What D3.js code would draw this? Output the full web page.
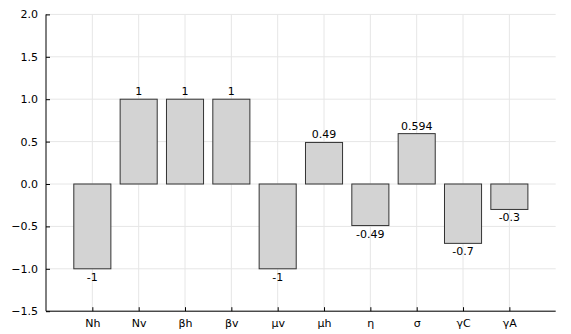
<!DOCTYPE html>
<html>
<head>
<meta charset="utf-8">
<script src="https://cdn.jsdelivr.net/npm/d3@7/dist/d3.min.js"></script>
<style>
html,body{margin:0;padding:0;background:#fff;}
svg{display:block;}
text{font-family:"DejaVu Sans",sans-serif;}
</style>
</head>
<body>
<svg id="chart" width="571" height="334"></svg>
<script>
const categories = ["Nh","Nv","βh","βv","μv","μh","η","σ","γC","γA"];
const values = [-1, 1, 1, 1, -1, 0.49, -0.49, 0.594, -0.7, -0.3];
const valueLabels = ["-1","1","1","1","-1","0.49","-0.49","0.594","-0.7","-0.3"];
const yTicks = [-1.5, -1.0, -0.5, 0.0, 0.5, 1.0, 1.5, 2.0];

(function(){
const svg = d3.select("#chart");
const pLeft = 46, pRight = 555.7, pTop = 14.4, pBottom = 311.2;

const x = d3.scaleLinear().domain([-1, 10]).range([pLeft, pRight]);
const y = d3.scaleLinear().domain([-1.5, 2.0]).range([pBottom, pTop]);
const step = x(1) - x(0);
const bw = step * 0.8;

// grid
const g = svg.append("g");
g.selectAll(".vg").data(categories).enter().append("line")
  .attr("x1", (d,i)=>x(i)).attr("x2", (d,i)=>x(i))
  .attr("y1", pTop).attr("y2", pBottom)
  .attr("stroke", "#e6e6e6").attr("stroke-width", 1);
g.selectAll(".hg").data(yTicks).enter().append("line")
  .attr("x1", pLeft).attr("x2", pRight)
  .attr("y1", d=>y(d)).attr("y2", d=>y(d))
  .attr("stroke", "#e6e6e6").attr("stroke-width", 1);

// bars
svg.selectAll(".bar").data(values).enter().append("rect")
  .attr("x", (d,i)=>x(i) - bw/2)
  .attr("width", bw)
  .attr("y", d=>Math.min(y(d), y(0)))
  .attr("height", d=>Math.abs(y(d) - y(0)))
  .attr("fill", "#d3d3d3")
  .attr("stroke", "#333")
  .attr("stroke-width", 1);

// value labels
svg.selectAll(".vl").data(values).enter().append("text")
  .attr("x", (d,i)=>x(i))
  .attr("y", d=> d >= 0 ? y(d) - 4 : y(d) + 12)
  .attr("text-anchor", "middle")
  .attr("font-size", "11px")
  .attr("fill", "#000")
  .text((d,i)=>valueLabels[i]);

// axes
const yAxis = d3.axisLeft(y).tickValues(yTicks).tickSize(-4).tickPadding(8)
  .tickFormat(d=>d3.format(".1f")(d).replace("-", "\u2212"));
const ya = svg.append("g").attr("transform", `translate(${pLeft},0)`).call(yAxis);
const xAxis = d3.axisBottom(x).tickValues(d3.range(categories.length)).tickSize(-4).tickPadding(8)
  .tickFormat(i=>categories[i]);
const xa = svg.append("g").attr("transform", `translate(0,${pBottom})`).call(xAxis);

[ya, xa].forEach(a=>{
  a.select(".domain").attr("stroke", "#000").attr("stroke-width", 1);
  a.selectAll(".tick line").attr("stroke", "#000");
  a.selectAll(".tick text").attr("font-size", "11px").attr("fill", "#000").attr("font-family", "DejaVu Sans");
});
xa.select(".domain").attr("d", `M${pLeft},0H${pRight}`);
ya.select(".domain").attr("d", `M0,${pBottom}V${pTop}`);
})();
</script>
</body>
</html>
